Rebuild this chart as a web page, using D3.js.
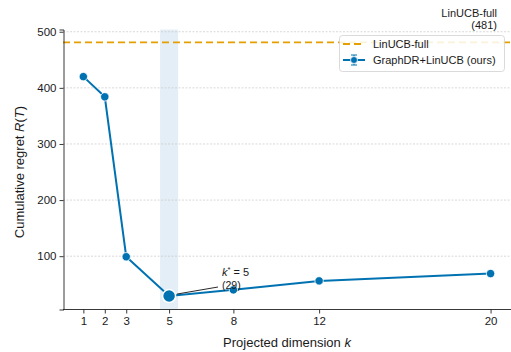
<!DOCTYPE html>
<html>
<head>
<meta charset="utf-8">
<script src="https://d3js.org/d3.v7.min.js"></script>
<style>
body { margin: 0; background: white; }
svg text { font-family: "Liberation Sans", Arial, sans-serif; fill: #1a1a1a; }
</style>
</head>
<body>
<svg width="511" height="352"></svg>
<script>
// data
const dims = [1, 2, 3, 5, 8, 12, 20];
const regret = [420, 384, 99, 29, 40, 56, 69];
const baseline = 481;
const bestK = 5;
const yTicks = [100, 200, 300, 400, 500];

const blue = "#0072b2", orange = "#e69f00";
const svg = d3.select("svg");

const x = d3.scaleLinear().domain([0.05, 21]).range([63, 512]);
const y = d3.scaleLinear().domain([5, 504]).range([309.5, 29.5]);

// shaded band around best k
svg.append("rect")
  .attr("x", x(bestK - 0.42)).attr("width", x(bestK + 0.42) - x(bestK - 0.42))
  .attr("y", y(504)).attr("height", y(5) - y(504))
  .attr("fill", "#dceaf4").attr("opacity", 0.8);

// grid
svg.append("g").selectAll("line").data(yTicks).enter().append("line")
  .attr("x1", 63).attr("x2", 511)
  .attr("y1", d => y(d)).attr("y2", d => y(d))
  .attr("stroke", "#c8c8c8").attr("stroke-width", 0.7).attr("stroke-dasharray", "2,1.5");

// baseline
svg.append("line")
  .attr("x1", 63).attr("x2", 511)
  .attr("y1", y(baseline)).attr("y2", y(baseline))
  .attr("stroke", orange).attr("stroke-width", 1.8).attr("stroke-dasharray", "7,4");

// axes
const yAxis = svg.append("g").attr("transform", "translate(63.5,0)")
  .call(d3.axisLeft(y).tickValues(yTicks).tickSize(4).tickPadding(3));
const xAxis = svg.append("g").attr("transform", "translate(0,309.5)")
  .call(d3.axisBottom(x).tickValues(dims).tickSize(4).tickPadding(3));
[yAxis, xAxis].forEach(g => {
  g.selectAll("text").style("font-size", "11.5px").attr("fill", "#1a1a1a");
  g.selectAll("line,path").attr("stroke", "#222").attr("stroke-width", 0.9);
});
xAxis.select(".domain").attr("d", "M63,0H511");

// series
svg.append("path").datum(dims.map((d, i) => [d, regret[i]]))
  .attr("fill", "none").attr("stroke", blue).attr("stroke-width", 2)
  .attr("d", d3.line().x(d => x(d[0])).y(d => y(d[1])));

// annotation arrow
svg.append("line")
  .attr("x1", x(bestK) + 8).attr("y1", y(29) - 2)
  .attr("x2", 218).attr("y2", 287)
  .attr("stroke", "#111").attr("stroke-width", 0.9);

svg.append("g").selectAll("circle").data(dims).enter().append("circle")
  .attr("cx", d => x(d)).attr("cy", (d, i) => y(regret[i]))
  .attr("r", d => d === bestK ? 6.5 : 4.2)
  .attr("fill", blue).attr("stroke", "white").attr("stroke-width", d => d === bestK ? 1.5 : 0.8);

// annotation text
const ann = svg.append("text").attr("x", 222).attr("y", 276).style("font-size", "11px");
ann.append("tspan").style("font-style", "italic").text("k");
ann.append("tspan").attr("dy", -4).style("font-size", "7.5px").text("*");
ann.append("tspan").attr("dy", 4).text(" = 5");
svg.append("text").attr("x", 222).attr("y", 289).style("font-size", "10.5px").text("(29)");

svg.append("text").attr("x", 497).attr("y", 17).attr("text-anchor", "end")
  .style("font-size", "11px").text("LinUCB-full");
svg.append("text").attr("x", 497).attr("y", 29).attr("text-anchor", "end")
  .style("font-size", "11px").text("(481)");

// legend
const lg = svg.append("g");
lg.append("rect").attr("x", 339.5).attr("y", 35.5).attr("width", 165).attr("height", 36)
  .attr("rx", 3).attr("fill", "white").attr("fill-opacity", 0.85)
  .attr("stroke", "#d0d0d0").attr("stroke-width", 0.8);
lg.append("line").attr("x1", 343).attr("x2", 365).attr("y1", 44).attr("y2", 44)
  .attr("stroke", orange).attr("stroke-width", 1.8).attr("stroke-dasharray", "7,4");
lg.append("line").attr("x1", 343).attr("x2", 365).attr("y1", 60).attr("y2", 60)
  .attr("stroke", blue).attr("stroke-width", 2);
lg.append("line").attr("x1", 354).attr("x2", 354).attr("y1", 55).attr("y2", 65)
  .attr("stroke", blue).attr("stroke-width", 1);
[55, 65].forEach(v => lg.append("line").attr("x1", 351).attr("x2", 357).attr("y1", v).attr("y2", v)
  .attr("stroke", blue).attr("stroke-width", 1));
lg.append("circle").attr("cx", 354).attr("cy", 60).attr("r", 3.5).attr("fill", blue)
  .attr("stroke", "white").attr("stroke-width", 0.8);
lg.append("text").attr("x", 373).attr("y", 47.5).style("font-size", "11px").text("LinUCB-full");
lg.append("text").attr("x", 373).attr("y", 63.5).style("font-size", "11px").text("GraphDR+LinUCB (ours)");

// axis labels
const xl = svg.append("text").attr("x", 287).attr("y", 347).attr("text-anchor", "middle").style("font-size", "13px");
xl.append("tspan").text("Projected dimension ");
xl.append("tspan").style("font-style", "italic").text("k");

const yl = svg.append("text").attr("transform", "translate(24,172) rotate(-90)")
  .attr("text-anchor", "middle").style("font-size", "13px");
yl.append("tspan").text("Cumulative regret ");
yl.append("tspan").style("font-style", "italic").text("R");
yl.append("tspan").text("(");
yl.append("tspan").style("font-style", "italic").text("T");
yl.append("tspan").text(")");
</script>
</body>
</html>
